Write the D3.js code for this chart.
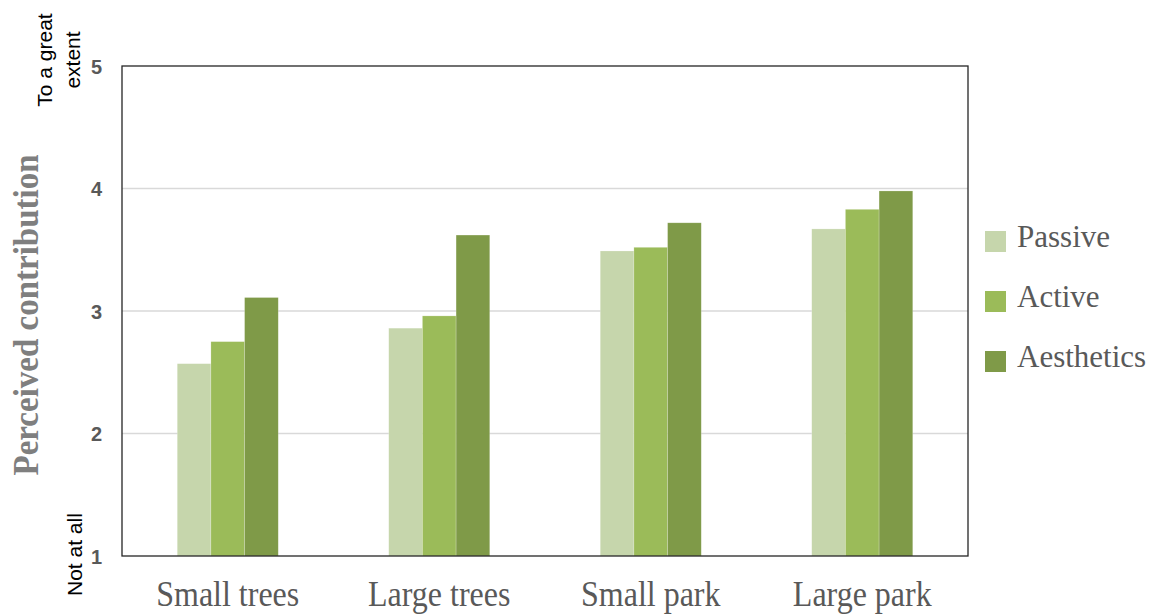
<!DOCTYPE html>
<html>
<head>
<meta charset="utf-8">
<script src="https://cdn.jsdelivr.net/npm/d3@7"></script>
<style>
  html, body { margin: 0; padding: 0; background: #fff; }
  svg { display: block; }
</style>
</head>
<body>
<svg id="chart" width="1159" height="616"></svg>
<script>
// Perceived contribution of greenery types, by use
const categories = ["Small trees", "Large trees", "Small park", "Large park"];
const seriesNames = ["Passive", "Active", "Aesthetics"];
const passive    = [2.57, 2.86, 3.49, 3.67];
const active     = [2.75, 2.96, 3.52, 3.83];
const aesthetics = [3.11, 3.62, 3.72, 3.98];
const yTicks = [1, 2, 3, 4, 5];
const colors = ["#c6d6ac", "#9bbb59", "#7f9a48"];

const seriesValues = [passive, active, aesthetics];

const svg = d3.select("#chart");
const plot = { left: 122, right: 968, top: 66, bottom: 556 };
const serif = "'Liberation Serif', 'Times New Roman', serif";
const sans = "'Liberation Sans', Arial, sans-serif";

const x = d3.scaleBand()
  .domain(categories)
  .range([plot.left, plot.right])
  .paddingInner(0)
  .paddingOuter(0);

const x1 = d3.scaleBand()
  .domain(seriesNames)
  .range([0, x.bandwidth()])
  .paddingOuter(1.64)
  .paddingInner(0);

const y = d3.scaleLinear().domain([1, 5]).range([plot.bottom, plot.top]);

// horizontal gridlines
svg.append("g")
  .selectAll("line")
  .data(yTicks.slice(1, -1))
  .join("line")
  .attr("x1", plot.left).attr("x2", plot.right)
  .attr("y1", d => y(d)).attr("y2", d => y(d))
  .attr("stroke", "#d9d9d9").attr("stroke-width", 1.5);

// bars
const groups = svg.append("g")
  .selectAll("g")
  .data(categories)
  .join("g")
  .attr("transform", d => `translate(${x(d)},0)`);

groups.selectAll("rect")
  .data((c, ci) => seriesNames.map((s, si) => ({ s, si, v: seriesValues[si][ci] })))
  .join("rect")
  .attr("x", d => x1(d.s))
  .attr("width", x1.bandwidth())
  .attr("y", d => y(d.v))
  .attr("height", d => y(1) - y(d.v))
  .attr("fill", d => colors[d.si])
  .attr("stroke", "rgba(255,255,255,0.35)")
  .attr("stroke-width", 0.6);

// frame
svg.append("rect")
  .attr("x", plot.left).attr("y", plot.top)
  .attr("width", plot.right - plot.left)
  .attr("height", plot.bottom - plot.top)
  .attr("fill", "none")
  .attr("stroke", "#262626").attr("stroke-width", 1.3);

// y axis tick labels
const yAxis = d3.axisLeft(y).tickValues(yTicks).tickFormat(d3.format("d")).tickSize(0).tickPadding(20);
const yg = svg.append("g").attr("transform", `translate(${plot.left},0)`).call(yAxis);
yg.select(".domain").remove();
yg.selectAll("text")
  .attr("font-family", sans)
  .attr("font-weight", "bold")
  .attr("font-size", 20)
  .attr("fill", "#595959")
  .attr("dy", "0.36em");

// category labels (slightly tall serif lettering)
svg.append("g")
  .selectAll("text")
  .data(categories)
  .join("text")
  .attr("transform", d => `translate(${x(d) + x.bandwidth() / 2},606) scale(1,1.15)`)
  .attr("text-anchor", "middle")
  .attr("font-family", serif)
  .attr("font-size", 32)
  .attr("fill", "#595959")
  .text(d => d);

// scale anchor labels
svg.append("text")
  .attr("transform", "translate(52,60) rotate(-90)")
  .attr("text-anchor", "middle")
  .attr("font-family", sans).attr("font-size", 21).attr("fill", "#000")
  .text("To a great");
svg.append("text")
  .attr("transform", "translate(80,60) rotate(-90)")
  .attr("text-anchor", "middle")
  .attr("font-family", sans).attr("font-size", 21).attr("fill", "#000")
  .text("extent");
svg.append("text")
  .attr("transform", "translate(82,596) rotate(-90)")
  .attr("text-anchor", "start")
  .attr("font-family", sans).attr("font-size", 21).attr("fill", "#000")
  .text("Not at all");

// y axis title
svg.append("text")
  .attr("transform", "translate(38,315) rotate(-90) scale(1,1.1)")
  .attr("text-anchor", "middle")
  .attr("font-family", serif)
  .attr("font-weight", "bold")
  .attr("font-size", 33)
  .attr("fill", "#7f7f7f")
  .text("Perceived contribution");

// legend
const legend = svg.append("g")
  .selectAll("g")
  .data(seriesNames)
  .join("g")
  .attr("transform", (d, i) => `translate(985,${231 + i * 60})`);
legend.append("rect")
  .attr("width", 21).attr("height", 21)
  .attr("fill", (d, i) => colors[i]);
legend.append("text")
  .attr("x", 32).attr("y", 16)
  .attr("font-family", serif)
  .attr("font-size", 31)
  .attr("fill", "#595959")
  .text(d => d);
</script>
</body>
</html>
